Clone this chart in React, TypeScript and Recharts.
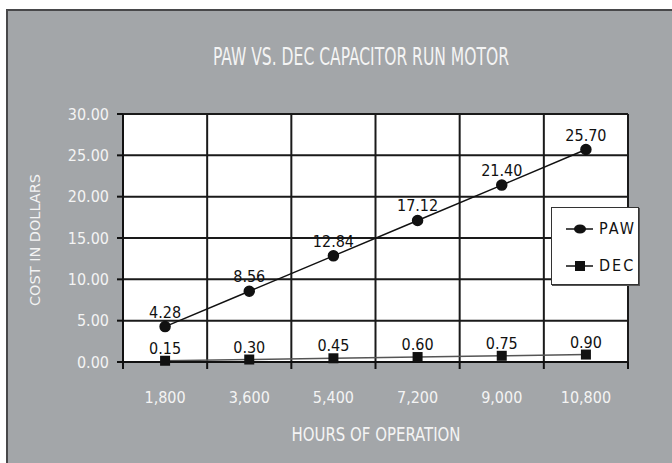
import React from 'react';
import { LineChart, Line, XAxis, YAxis, CartesianGrid, LabelList } from 'recharts';

const hours = ['1,800', '3,600', '5,400', '7,200', '9,000', '10,800'];
const pawCost = [4.28, 8.56, 12.84, 17.12, 21.4, 25.7];
const decCost = [0.15, 0.3, 0.45, 0.6, 0.75, 0.9];
const costTicks = [0, 5, 10, 15, 20, 25, 30];

// each category sits in the middle of its grid cell
const data = hours.map((h, i) => ({ hours: h, pos: i + 0.5, paw: pawCost[i], dec: decCost[i] }));
const boundaryTicks = hours.map((_, i) => i).concat(hours.length);
const centerTicks = data.map((d) => d.pos);

const NARROW = "'Liberation Sans Narrow', 'DejaVu Sans Condensed', 'Roboto Condensed', sans-serif";
const BG = '#a3a6a9';

const SquareDot = (props: any) => {
  const { cx, cy } = props;
  if (cx == null || cy == null) return null;
  return <rect x={cx - 5} y={cy - 5} width={10} height={10} fill="#111" />;
};

function LegendBox() {
  const row = (label: string, square: boolean) => (
    <div style={{ display: 'flex', alignItems: 'center', height: 37 }}>
      <svg width={28} height={12}>
        <line x1={0} y1={6} x2={27} y2={6} stroke="#111" strokeWidth={1.5} />
        {square ? (
          <rect x={9} y={1} width={10} height={10} fill="#111" />
        ) : (
          <ellipse cx={14} cy={6} rx={6} ry={4.5} fill="#111" />
        )}
      </svg>
      <span style={{ marginLeft: 5, fontFamily: NARROW, fontSize: 16, letterSpacing: 2, color: '#111' }}>{label}</span>
    </div>
  );
  return (
    <div
      style={{
        position: 'absolute',
        left: 551,
        top: 207,
        width: 88,
        height: 78,
        background: '#fff',
        border: '1.5px solid #333',
        boxShadow: '1px 1px 0 #555',
        padding: '2px 0 0 14px',
        boxSizing: 'border-box',
      }}
    >
      {row('PAW', false)}
      {row('DEC', true)}
    </div>
  );
}

export default function App() {
  return (
    <div style={{ position: 'absolute', left: 0, top: 0, width: 672, height: 463, overflow: 'hidden', background: '#fff' }}>
      <div
        style={{
          position: 'absolute',
          left: 6,
          top: 9,
          width: 680,
          height: 470,
          background: BG,
          borderLeft: '2px solid #48484a',
          borderTop: '2px solid #48484a',
        }}
      />
      <div style={{ position: 'absolute', left: 0, top: 0 }}>
        <LineChart width={672} height={463} data={data} margin={{ top: 114, right: 44, bottom: 43, left: 63 }}>
          <CartesianGrid xAxisId="bounds" fill="#fff" stroke="#1a1a1a" strokeWidth={2} />
          {/* boundary axis: grid lines and tick marks between categories */}
          <XAxis
            xAxisId="bounds"
            type="number"
            dataKey="pos"
            domain={[0, hours.length]}
            ticks={boundaryTicks}
            height={8}
            tickSize={7}
            tick={() => <g />}
            axisLine={{ stroke: '#111', strokeWidth: 2 }}
            tickLine={{ stroke: '#111', strokeWidth: 2 }}
          />
          {/* label axis: category names centred in each cell */}
          <XAxis
            xAxisId="names"
            type="number"
            dataKey="pos"
            domain={[0, hours.length]}
            ticks={centerTicks}
            tickFormatter={(v: number) => hours[Math.floor(v)]}
            height={50}
            tickSize={0}
            tickMargin={22}
            axisLine={false}
            tickLine={false}
            tick={{ fill: '#f4f4f4', fontSize: 16, fontFamily: NARROW }}
          />
          <YAxis
            type="number"
            domain={[0, 30]}
            ticks={costTicks}
            width={60}
            tickSize={6}
            tickMargin={8}
            tickFormatter={(v: number) => v.toFixed(2)}
            axisLine={{ stroke: '#111', strokeWidth: 2 }}
            tickLine={{ stroke: '#111', strokeWidth: 2 }}
            tick={{ fill: '#f4f4f4', fontSize: 16, fontFamily: NARROW }}
          />
          <Line
            xAxisId="bounds"
            dataKey="paw"
            stroke="#111"
            strokeWidth={1.5}
            dot={{ r: 5, fill: '#111', stroke: '#111' }}
            isAnimationActive={false}
          >
            <LabelList
              dataKey="paw"
              position="top"
              offset={9}
              formatter={(v: any) => Number(v).toFixed(2)}
              fill="#111"
              fontSize={16}
              fontFamily={NARROW}
            />
          </Line>
          <Line
            xAxisId="bounds"
            dataKey="dec"
            stroke="#555"
            strokeWidth={1.5}
            dot={<SquareDot />}
            isAnimationActive={false}
          >
            <LabelList
              dataKey="dec"
              position="top"
              offset={7}
              formatter={(v: any) => Number(v).toFixed(2)}
              fill="#111"
              fontSize={16}
              fontFamily={NARROW}
            />
          </Line>
        </LineChart>
      </div>
      <svg width={672} height={463} style={{ position: 'absolute', left: 0, top: 0, pointerEvents: 'none' }}>
        <text x={361} y={65} textAnchor="middle" fill="#f4f4f4" fontSize={24} fontFamily={NARROW} textLength={296} lengthAdjust="spacingAndGlyphs">
          PAW VS. DEC CAPACITOR RUN MOTOR
        </text>
        <text x={376} y={441} textAnchor="middle" fill="#f4f4f4" fontSize={19} fontFamily={NARROW} textLength={169} lengthAdjust="spacingAndGlyphs">
          HOURS OF OPERATION
        </text>
        <text
          x={0}
          y={0}
          transform="translate(40 240) rotate(-90)"
          textAnchor="middle"
          fill="#f4f4f4"
          fontSize={14}
          fontFamily={NARROW}
          textLength={132}
          lengthAdjust="spacingAndGlyphs"
        >
          COST IN DOLLARS
        </text>
      </svg>
      <LegendBox />
    </div>
  );
}
